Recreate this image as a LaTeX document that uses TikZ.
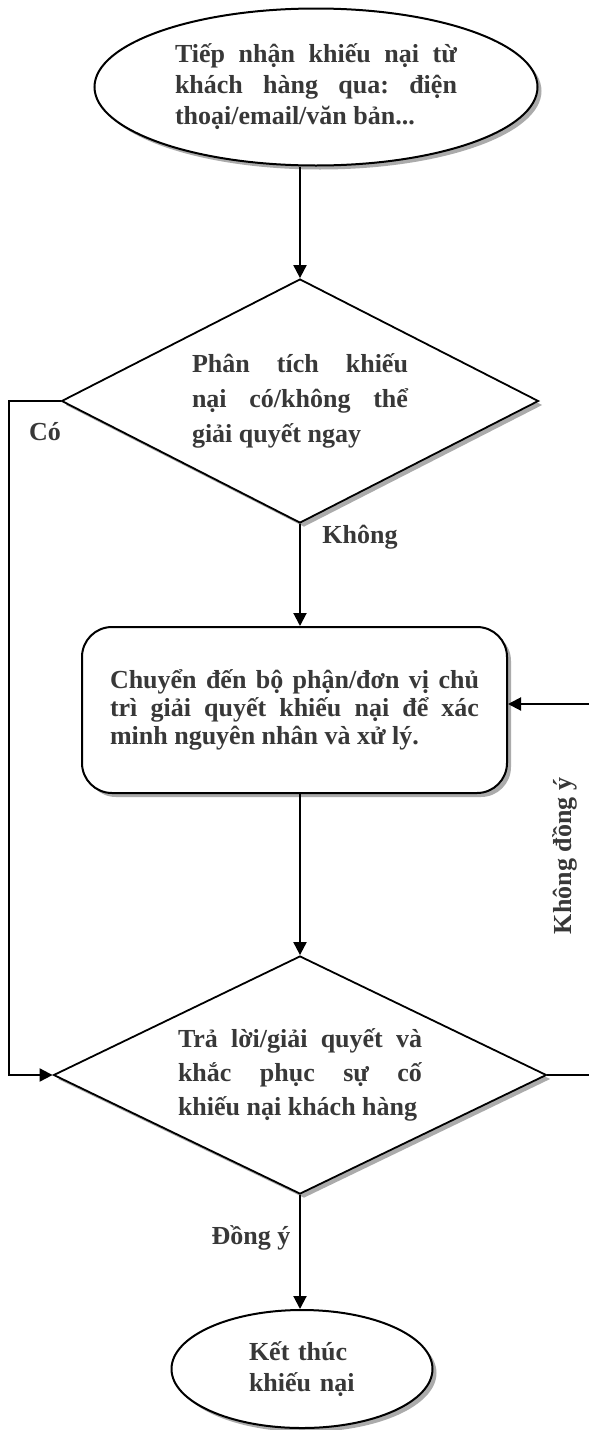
\documentclass[tikz,border=0pt]{standalone}
\usepackage{fontspec}
\setmainfont{Liberation Serif}
\usetikzlibrary{shapes.geometric, arrows.meta, shadows}

\tikzset{
  shad/.style={drop shadow={shadow xshift=4pt, shadow yshift=-4pt, fill=black!33, opacity=1}},
  txt/.style={font=\bfseries\fontsize{26}{31}\selectfont\frenchspacing, text=black!78},
  ellip/.style={ellipse, draw, line width=2pt, fill=white, shad, txt, inner sep=0pt},
  dia/.style={diamond, draw, line width=1.8pt, fill=white, shad, txt, inner sep=0pt,
    font=\bfseries\fontsize{26}{35}\selectfont\frenchspacing, align=justify},
  roundbox/.style={rectangle, rounded corners=30pt, draw, line width=2pt, fill=white,
    shad, txt, inner sep=0pt, align=justify},
  lbl/.style={txt},
  arr/.style={line width=2pt, -{Triangle[length=13pt, width=13pt]}}
}

\begin{document}
\begin{tikzpicture}[x=1pt, y=-1pt]
  \useasboundingbox (0,0) rectangle (589,1430);

  \node[ellip, minimum width=443pt, minimum height=157pt, text width=282pt, align=justify]
    (tiepnhan) at (316,87)
    {Tiếp nhận khiếu nại từ\linebreak khách hàng qua: điện\linebreak thoại/email/văn bản...};
  \node[dia, aspect=1.95, minimum width=477pt, minimum height=244pt, text width=216pt]
    (phantich) at (300,401)
    {Phân tích khiếu\linebreak nại có/không thể\linebreak giải quyết ngay};
  \node[roundbox, minimum width=425pt, minimum height=166pt, text width=369pt,
    font=\bfseries\fontsize{26}{28}\selectfont\frenchspacing]
    (chuyen) at (294.5,710)
    {Chuyển đến bộ phận/đơn vị chủ\linebreak trì giải quyết khiếu nại để xác\linebreak minh nguyên nhân và xử lý.};
  \node[dia, aspect=2.07, minimum width=493pt, minimum height=238pt, text width=244pt,
    font=\bfseries\fontsize{26}{34}\selectfont\frenchspacing]
    (traloi) at (300,1075)
    {Trả lời/giải quyết và\linebreak khắc phục sự cố\linebreak khiếu nại khách hàng};
  \node[ellip, minimum width=261pt, minimum height=118pt, text width=106pt, align=left]
    (ketthuc) at (302,1369)
    {Kết thúc\\khiếu nại};

  \draw[arr] (tiepnhan.south -| phantich.north) -- (phantich.north);
  \draw[arr] (phantich.south) -- (chuyen.north -| phantich.south);
  \draw[arr] (chuyen.south -| traloi.north) -- (traloi.north);
  \draw[arr] (traloi.south) -- (ketthuc.north -| traloi.south);
  \draw[arr] (phantich.west) -- ++(-52,0) |- (traloi.west);
  \draw[arr] (traloi.east) -- ++(46,0) |- ([yshift=6pt]chuyen.east);

  \node[lbl] (co) at (45,432) {Có};
  \node[lbl] (khong) at (360,537) {Không};
  \node[lbl] (dongy) at (251,1238) {Đồng ý};
  \node[lbl, rotate=90] (khongdongy) at (565,856) {Không đồng ý};
\end{tikzpicture}
\end{document}
